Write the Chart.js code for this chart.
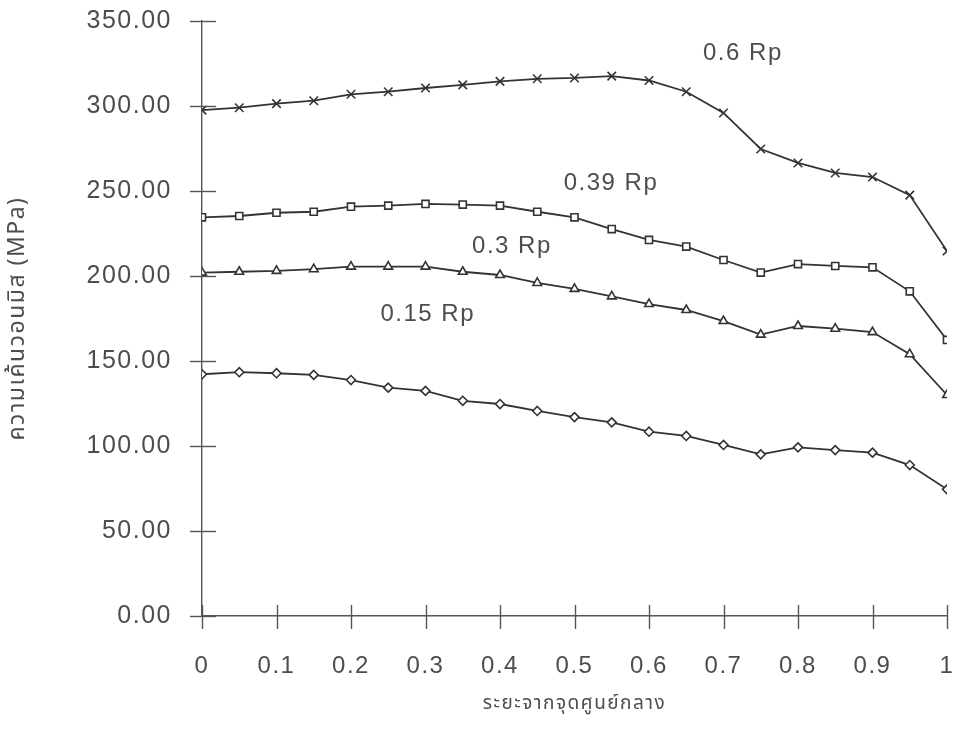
<!DOCTYPE html>
<html><head><meta charset="utf-8">
<script src="https://cdn.jsdelivr.net/npm/chart.js@4/dist/chart.umd.min.js"></script>
<style>html,body{margin:0;padding:0;background:#fff}#wrap{width:956px;height:747px;position:relative}</style>
</head><body><div id="wrap"><canvas id="c" width="956" height="747"></canvas></div>
<script>
// ---- data ----
const xPositions = [0,0.05,0.1,0.15,0.2,0.25,0.3,0.35,0.4,0.45,0.5,0.55,0.6,0.65,0.7,0.75,0.8,0.85,0.9,0.95,1];
const seriesNames = ['0.6 Rp','0.39 Rp','0.3 Rp','0.15 Rp'];
const rp060 = [297.6,299,301.4,303.1,306.9,308.4,310.6,312.4,314.5,316,316.5,317.6,315,308.4,295.9,274.7,266.5,260.6,258.2,247.6,214.7];
const rp039 = [234.5,235.3,237.2,237.8,240.8,241.4,242.4,242,241.4,237.8,234.5,227.6,221.2,217.3,209.4,202,207,205.9,205.1,191,162.4];
const rp030 = [202,202.5,203,204,205.5,205.5,205.5,202.5,200.6,195.9,192.4,188,183.5,180,173.5,165.5,170.6,169,167,154,130];
const rp015 = [142.2,143.4,142.8,141.8,138.8,134.3,132.4,126.6,124.7,120.6,117,113.9,108.4,105.9,100.6,95.1,99.2,97.6,96.1,88.8,74.5];
const yTicks = [0,50,100,150,200,250,300,350];
const xTicks = [0,0.1,0.2,0.3,0.4,0.5,0.6,0.7,0.8,0.9,1];
const xTickLabels = ['0','0.1','0.2','0.3','0.4','0.5','0.6','0.7','0.8','0.9','1'];
const labelX = [0.726,0.549,0.416,0.303];
const labelY = [331,254.7,217.6,177.6];
const xTitle = 'ระยะจากจุดศูนย์กลาง';
const yTitle = 'ความเค้นวอนมิส (MPa)';

// ---- styles ----
const TXT = '#4d4d4d';
const LINE = '#333333';
const AX = '#555555';
const markers = ['crossRot','rect','triangle','rectRot'];
const radii = [6,5,5,4.5];
const allSeries = [rp060, rp039, rp030, rp015];

const datasets = allSeries.map((s,i)=>({
  label: seriesNames[i],
  data: xPositions.map((x,j)=>({x:x,y:s[j]})),
  borderColor: LINE,
  borderWidth: 1.8,
  pointStyle: markers[i],
  pointRadius: radii[i],
  pointBorderColor: LINE,
  pointBackgroundColor: '#ffffff',
  pointBorderWidth: 1.6,
  tension: 0,
  fill: false
}));

const FONT = "'Liberation Sans', Arial, sans-serif";
const THAI = "'Noto Sans Thai','Loma','Garuda','Norasi','Noto Sans','DejaVu Sans',sans-serif";

const decor = {
  id: 'decor',
  beforeDraw(chart){ try{ chart.ctx.letterSpacing = '1.5px'; }catch(e){} },
  afterDatasetsDraw(chart){
    const ctx = chart.ctx, xs = chart.scales.x, ys = chart.scales.y, ca = chart.chartArea;
    ctx.save();
    ctx.strokeStyle = AX; ctx.lineWidth = 1.4;
    yTicks.forEach(v=>{
      const py = Math.round(ys.getPixelForValue(v))+0.5;
      ctx.beginPath(); ctx.moveTo(ca.left-12, py); ctx.lineTo(ca.left+14, py); ctx.stroke();
    });
    xTicks.forEach(v=>{
      const px = Math.round(xs.getPixelForValue(v))+0.5;
      ctx.beginPath(); ctx.moveTo(px, ca.bottom-11); ctx.lineTo(px, ca.bottom+13); ctx.stroke();
    });
    ctx.fillStyle = TXT;
    ctx.font = "24px " + FONT;
    ctx.textAlign = 'center'; ctx.textBaseline = 'middle';
    seriesNames.forEach((n,i)=>{
      ctx.fillText(n, xs.getPixelForValue(labelX[i]), ys.getPixelForValue(labelY[i]));
    });
    ctx.restore();
  }
};

new Chart(document.getElementById('c'), {
  type: 'line',
  data: { datasets },
  plugins: [decor],
  options: {
    responsive: false,
    animation: false,
    events: [],
    layout: { padding: { left: 0, right: 9, top: 21, bottom: 0 } },
    plugins: { legend: { display: false }, tooltip: { enabled: false } },
    scales: {
      x: {
        type: 'linear', min: 0, max: 1,
        afterBuildTicks(scale){ scale.ticks = xTicks.map(v=>({value:v})); },
        afterFit(scale){ scale.height = 131; scale.paddingLeft = 0; scale.paddingRight = 0; },
        ticks: {
          color: TXT, font: { family: FONT, size: 24 }, padding: 36, maxRotation: 0, autoSkip: false,
          callback: (v,i)=> xTickLabels[i]
        },
        grid: { display: true, drawOnChartArea: false, drawTicks: false },
        border: { display: true, color: AX, width: 1.4 },
        title: { display: true, text: xTitle, color: TXT, font: { family: THAI, size: 19 }, padding: { top: 0, bottom: 30 } }
      },
      y: {
        min: 0, max: 350,
        afterBuildTicks(scale){ scale.ticks = yTicks.map(v=>({value:v})); },
        afterFit(scale){ scale.width = 202; scale.paddingTop = 0; scale.paddingBottom = 0; },
        ticks: {
          color: TXT, font: { family: FONT, size: 25 }, padding: 30,
          callback: v => Number(v).toFixed(2)
        },
        grid: { display: true, drawOnChartArea: false, drawTicks: false },
        border: { display: true, color: AX, width: 1.4 },
        title: { display: true, text: yTitle, color: TXT, font: { family: THAI, size: 23 }, padding: { top: 6, bottom: 0 } }
      }
    }
  }
});
</script>
</body></html>
